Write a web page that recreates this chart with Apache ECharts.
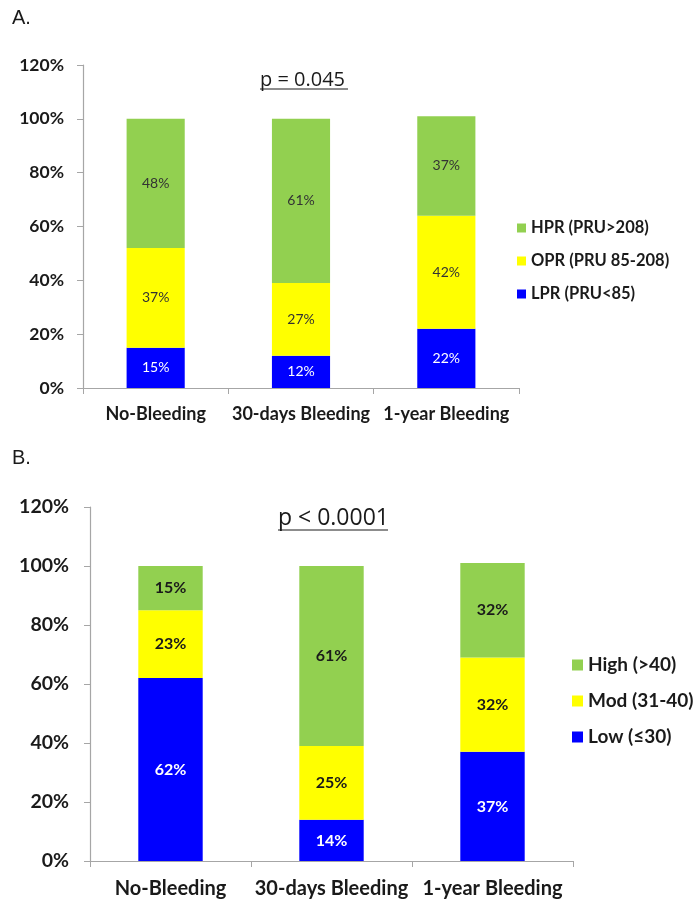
<!DOCTYPE html>
<html>
<head>
<meta charset="utf-8">
<script src="https://cdn.jsdelivr.net/npm/echarts@6/dist/echarts.min.js"></script>
<style>
  html, body { margin: 0; padding: 0; background: #fff; }
  #chart { width: 694px; height: 900px; }
</style>
</head>
<body>
<div id="chart"></div>
<script>
const categories = ["No-Bleeding", "30-days Bleeding", "1-year Bleeding"];

// panel A: platelet reactivity
const lprA = [15, 12, 22];
const oprA = [37, 27, 42];
const hprA = [48, 61, 37];
const namesA = ["LPR (PRU<85)", "OPR (PRU 85-208)", "HPR (PRU>208)"];

// panel B
const lowB = [62, 14, 37];
const modB = [23, 25, 32];
const highB = [15, 61, 32];
const namesB = ["Low (\u226430)", "Mod (31-40)", "High (>40)"];

const yTicks = [0, 20, 40, 60, 80, 100, 120];

const GREEN = "#92d050";
const YELLOW = "#ffff00";
const BLUE = "#0000ff";
const FONT = "Lato";

const chart = echarts.init(document.getElementById("chart"));

function xAxis(grid, size, margin) {
  return {
    type: "category",
    gridIndex: grid,
    data: categories,
    axisLine: { lineStyle: { color: "#a6a6a6", width: 1.2 } },
    axisTick: { show: true, length: 6, lineStyle: { color: "#a6a6a6" } },
    axisLabel: {
      color: "#1a1a1a",
      fontFamily: FONT,
      fontWeight: "bold",
      fontSize: size,
      margin: margin,
      interval: 0
    }
  };
}

function yAxis(grid, size, margin) {
  return {
    type: "value",
    gridIndex: grid,
    min: yTicks[0],
    max: yTicks[yTicks.length - 1],
    interval: 20,
    axisLine: { show: true, lineStyle: { color: "#a6a6a6", width: 1.2 } },
    axisTick: { show: true, length: 6, lineStyle: { color: "#a6a6a6" } },
    splitLine: { show: false },
    axisLabel: {
      formatter: "{value}%",
      color: "#1a1a1a",
      fontFamily: FONT,
      fontWeight: "bold",
      fontSize: size,
      margin: margin
    }
  };
}

function bar(name, data, color, grid, labelColor, size, weight) {
  return {
    name: name,
    type: "bar",
    stack: "s" + grid,
    xAxisIndex: grid,
    yAxisIndex: grid,
    barWidth: "40%",
    data: data,
    itemStyle: { color: color },
    label: {
      show: true,
      position: "inside",
      formatter: "{c}%",
      color: labelColor,
      fontFamily: FONT,
      fontSize: size,
      fontWeight: weight
    }
  };
}

const option = {
  animation: false,
  backgroundColor: "#fff",
  grid: [
    { left: 83, top: 65, width: 436, height: 323 },
    { left: 90, top: 507, width: 483, height: 354 }
  ],
  xAxis: [xAxis(0, 18, 17), xAxis(1, 20, 18)],
  yAxis: [yAxis(0, 17.5, 19), yAxis(1, 19.5, 21)],
  legend: [
    {
      data: [namesA[2], namesA[1], namesA[0]],
      orient: "vertical",
      left: 512,
      top: 214,
      icon: "rect",
      itemWidth: 9,
      itemHeight: 9,
      itemGap: 15,
      textStyle: { fontFamily: FONT, fontWeight: "bold", fontSize: 16.5, color: "#1a1a1a", lineHeight: 18 }
    },
    {
      data: [namesB[2], namesB[1], namesB[0]],
      orient: "vertical",
      left: 567,
      top: 649,
      icon: "rect",
      itemWidth: 11,
      itemHeight: 11,
      itemGap: 14,
      textStyle: { fontFamily: FONT, fontWeight: "bold", fontSize: 19, color: "#1a1a1a", lineHeight: 22 }
    }
  ],
  graphic: [
    { type: "text", left: 12, top: 8, style: { text: "A.", font: "20px Liberation Sans", fill: "#1a1a1a" } },
    { type: "text", left: 12, top: 448, style: { text: "B.", font: "20px Liberation Sans", fill: "#1a1a1a" } },
    { type: "text", left: 260, top: 70, style: { text: "p = 0.045", font: "20px Open Sans", fill: "#1a1a1a" } },
    { type: "line", shape: { x1: 260, y1: 89, x2: 348, y2: 89 }, style: { stroke: "#1a1a1a", lineWidth: 1 } },
    { type: "text", left: 278, top: 507, style: { text: "p < 0.0001", font: "23px Open Sans", fill: "#1a1a1a" } },
    { type: "line", shape: { x1: 278, y1: 530, x2: 388, y2: 530 }, style: { stroke: "#1a1a1a", lineWidth: 1 } }
  ],
  series: [
    bar(namesA[0], lprA, BLUE, 0, "#fff", 14, "normal"),
    bar(namesA[1], oprA, YELLOW, 0, "#333", 14, "normal"),
    bar(namesA[2], hprA, GREEN, 0, "#333", 14, "normal"),
    bar(namesB[0], lowB, BLUE, 1, "#fff", 16, "bold"),
    bar(namesB[1], modB, YELLOW, 1, "#1a1a1a", 16, "bold"),
    bar(namesB[2], highB, GREEN, 1, "#1a1a1a", 16, "bold")
  ]
};

chart.setOption(option);
</script>
</body>
</html>
